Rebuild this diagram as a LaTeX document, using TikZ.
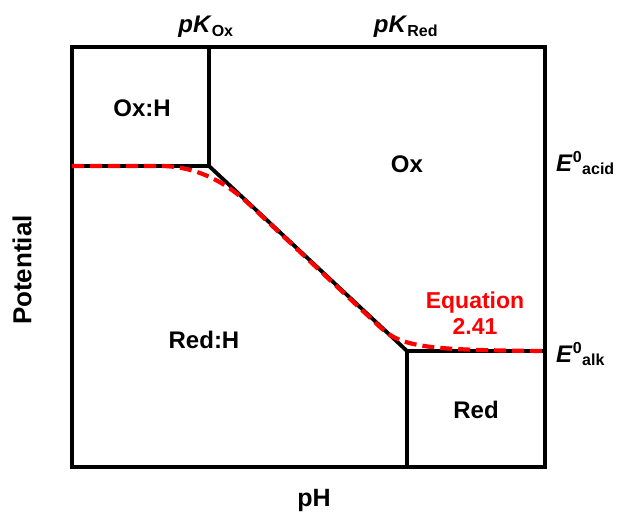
\documentclass[tikz,border=0pt]{standalone}
\usepackage{fontspec}
\setmainfont{Liberation Sans}
\begin{document}
\begin{tikzpicture}[x=1pt,y=-1pt,
  frame/.style={line width=3.8pt,black},
  lbl/.style={font=\bfseries\fontsize{24}{28}\selectfont,inner sep=0pt},
  eqlbl/.style={font=\bfseries\fontsize{23}{30}\selectfont,text=red,inner sep=0pt,align=center},
  redcurve/.style={red,line width=4.2pt,dash pattern=on 12pt off 6pt}]
\useasboundingbox (0,0) rectangle (624,515);
\coordinate (tl) at (72,47);
\coordinate (br) at (545,467);
\coordinate (a) at (209,47);
\coordinate (b) at (209,166);
\coordinate (c) at (72,166);
\coordinate (d) at (407,351);
\coordinate (e) at (545,351);
\coordinate (f) at (407,467);
\draw[frame] (tl) rectangle (br);
\draw[frame] (a) -- (b) -- (c);
\draw[frame] (b) -- (d) -- (e);
\draw[frame] (d) -- (f);
\draw[redcurve] (c) -- (160,166) .. controls (198,166) and (228,184) .. (250,205) -- (380,327) .. controls (402,348) and (430,350) .. (e);
\node[lbl] (oxh) at (142,108) {Ox:H};
\node[lbl] (ox) at (407,164) {Ox};
\node[lbl] (redh) at (204,340) {Red:H};
\node[lbl] (red) at (476,410) {Red};
\node[eqlbl] (eq) at (475,313) {Equation\\[-4pt]2.41};
\node[lbl] (pkox) at (206,27) {\textit{pK}\textsubscript{\fontsize{16}{18}\selectfont Ox}};
\node[lbl] (pkred) at (406,27) {\textit{pK}\textsubscript{\fontsize{16}{18}\selectfont Red}};
\node[lbl,anchor=west] (eacid) at (556,163) {\textit{E}\textsuperscript{\fontsize{16}{18}\selectfont 0}\textsubscript{\fontsize{16}{18}\selectfont acid}};
\node[lbl,anchor=west] (ealk) at (556,354) {\textit{E}\textsuperscript{\fontsize{16}{18}\selectfont 0}\textsubscript{\fontsize{16}{18}\selectfont alk}};
\node[lbl,font=\bfseries\fontsize{26}{30}\selectfont,rotate=90] (pot) at (22,270) {Potential};
\node[lbl,font=\bfseries\fontsize{25}{30}\selectfont] (ph) at (314,500) {pH};
\end{tikzpicture}
\end{document}
